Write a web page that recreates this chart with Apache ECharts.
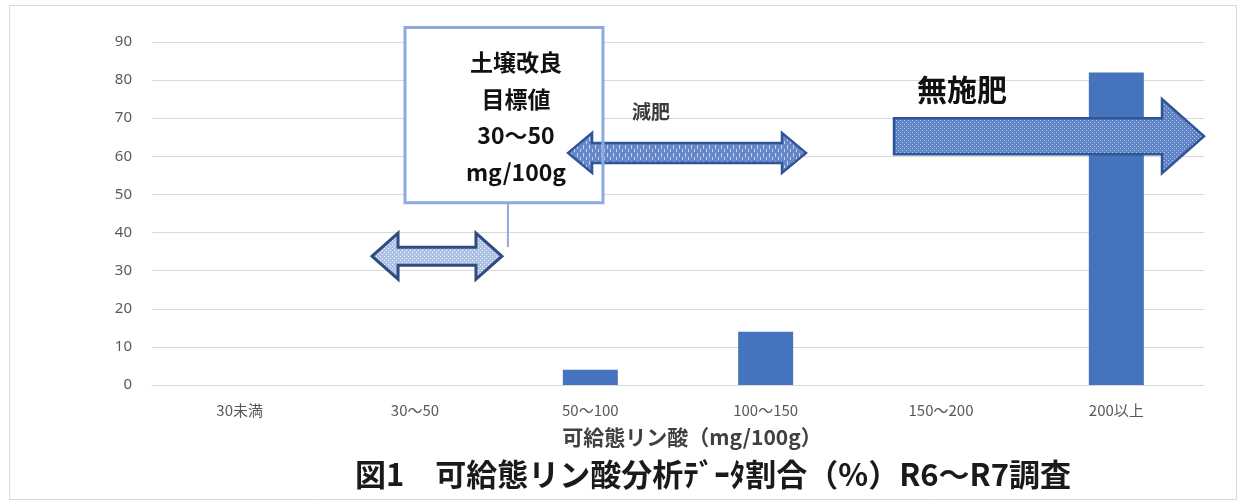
<!DOCTYPE html>
<html>
<head>
<meta charset="utf-8">
<script src="https://cdn.jsdelivr.net/npm/echarts@6/dist/echarts.min.js"></script>
<style>
  html, body { margin: 0; padding: 0; background: #ffffff; }
  #chart { width: 1246px; height: 504px; }
</style>
</head>
<body>
<div id="chart"></div>
<script>
// 可給態リン酸 class ranges (mg/100g) and share of samples (%)
const categories = ['30未満', '30～50', '50～100', '100～150', '150～200', '200以上'];
const shares = [0, 0, 4, 14, 0, 82];
const yTicks = { min: 0, max: 90, interval: 10 };

const chartTitle = '図1\u3000可給態リン酸分析ﾃﾞｰﾀ割合（%）R6～R7調査';
const axisTitle = '可給態リン酸（mg/100g）';
const targetLines = ['土壌改良', '目標値', '30～50', 'mg/100g'];
const reduceLabel = '減肥';
const noFertLabel = '無施肥';

const FONT_CJK = '"Noto Sans CJK JP", "Noto Sans", sans-serif';

const chart = echarts.init(document.getElementById('chart'), null, { renderer: 'canvas' });

chart.setOption({
  animation: false,
  backgroundColor: '#ffffff',
  title: {
    text: chartTitle,
    left: 355,
    top: 459,
    padding: 0,
    textStyle: { fontFamily: FONT_CJK, fontSize: 31, fontWeight: 'bold', color: '#1a1a1a' }
  },
  grid: { left: 152, right: 42, top: 42, bottom: 119, containLabel: false, outerBoundsMode: 'none' },
  xAxis: {
    type: 'category',
    data: categories,
    axisLine: { show: true, lineStyle: { color: '#D9D9D9', width: 1 } },
    axisTick: { show: false },
    axisLabel: { color: '#595959', fontSize: 15, fontFamily: FONT_CJK, margin: 18 },
    name: axisTitle,
    nameLocation: 'middle',
    nameGap: 42,
    nameTextStyle: { color: '#404040', fontSize: 21, fontWeight: 'bold', fontFamily: FONT_CJK, padding: [0, 0, 0, 28] }
  },
  yAxis: {
    type: 'value',
    min: yTicks.min,
    max: yTicks.max,
    interval: yTicks.interval,
    axisLine: { show: false },
    axisTick: { show: false },
    axisLabel: { color: '#595959', fontSize: 15, fontFamily: '"Noto Sans", sans-serif', margin: 20 },
    splitLine: { lineStyle: { color: '#D9D9D9', width: 1 } }
  },
  series: [{
    type: 'bar',
    data: shares,
    barWidth: 55,
    itemStyle: { color: '#4673BD' },
    z: 2
  }]
});

// ---- annotation layer (arrows, target box, labels) positioned on the axes ----
const x0 = chart.convertToPixel({ xAxisIndex: 0 }, 0);
const x1 = chart.convertToPixel({ xAxisIndex: 0 }, 1);
const band = x1 - x0;
const X = f => x0 + f * band;                                  // fractional category position
const Y = v => chart.convertToPixel({ yAxisIndex: 0 }, v);     // value position

function makePattern(base, ink, w, h, cells) {
  const c = document.createElement('canvas');
  c.width = w; c.height = h;
  const g = c.getContext('2d');
  g.fillStyle = base; g.fillRect(0, 0, w, h);
  g.fillStyle = ink;
  cells.forEach(([cx, cy, cw, ch]) => g.fillRect(cx, cy, cw, ch));
  return { image: c, repeat: 'repeat' };
}

const dotsDark = makePattern('#5F84C6', '#B9CBEA', 4, 4, [[0, 0, 1, 1], [2, 2, 1, 1]]);
const dotsLight = makePattern('#AEC1E5', '#EEF3FB', 4, 4, [[0, 0, 1, 1], [2, 2, 1, 1]]);
const dashes = makePattern('#6688C8', '#C3D2EE', 6, 8, [[1, 1, 1, 4], [4, 5, 1, 3]]);

function doubleArrow(xa, xb, y, shaftH, headH, headL) {
  return [
    [xa, y], [xa + headL, y - headH], [xa + headL, y - shaftH],
    [xb - headL, y - shaftH], [xb - headL, y - headH], [xb, y],
    [xb - headL, y + headH], [xb - headL, y + shaftH],
    [xa + headL, y + shaftH], [xa + headL, y + headH]
  ];
}
function rightArrow(xa, xb, y, shaftH, headH, headL) {
  return [
    [xa, y - shaftH], [xb - headL, y - shaftH], [xb - headL, y - headH], [xb, y],
    [xb - headL, y + headH], [xb - headL, y + shaftH], [xa, y + shaftH]
  ];
}

const boxL = X(0.943), boxR = X(2.072), boxT = Y(93.8), boxB = Y(47.8);
const boxCx = X(1.576);
const lineYs = [84.6, 75.0, 65.4, 55.8];

const graphics = [
  // chart-area frame
  { type: 'rect', silent: true, z: 0,
    shape: { x: 9.5, y: 5.5, width: 1227, height: 494 },
    style: { fill: null, stroke: '#D9D9D9', lineWidth: 1 } },
  // target box background (hides gridlines inside)
  { type: 'rect', silent: true, z: 10,
    shape: { x: boxL, y: boxT, width: boxR - boxL, height: boxB - boxT },
    style: { fill: '#ffffff' } },
  // connector from the box down to the 30～50 arrow
  { type: 'line', silent: true, z: 11,
    shape: { x1: X(1.53), y1: boxB, x2: X(1.53), y2: Y(36.2) },
    style: { stroke: '#8EA9DB', lineWidth: 2 } },
  // 30～50 target range arrow
  { type: 'polygon', silent: true, z: 12,
    shape: { points: doubleArrow(X(0.755), X(1.496), Y(33.8), 9, 23, 26) },
    style: { fill: dotsLight, stroke: '#2F4C7F', lineWidth: 3, lineJoin: 'miter' } },
  // 減肥 range arrow
  { type: 'polygon', silent: true, z: 12,
    shape: { points: doubleArrow(X(1.873), X(3.23), Y(60.9), 10, 20, 24) },
    style: { fill: dashes, stroke: '#2F5597', lineWidth: 2.5, lineJoin: 'miter' } },
  // 無施肥 arrow
  { type: 'polygon', silent: true, z: 12,
    shape: { points: rightArrow(X(3.732), X(5.5), Y(65.3), 18, 37, 42) },
    style: { fill: dotsDark, stroke: '#2F5597', lineWidth: 2.5, lineJoin: 'miter' } },
  // target box border
  { type: 'rect', silent: true, z: 13,
    shape: { x: boxL, y: boxT, width: boxR - boxL, height: boxB - boxT },
    style: { fill: null, stroke: '#8EA9DB', lineWidth: 3 } },
  // labels
  { type: 'text', silent: true, z: 14,
    x: X(2.346), y: Y(71.6),
    style: { text: reduceLabel, fontFamily: FONT_CJK, fontSize: 19, fontWeight: 'bold',
             fill: '#3a3a3a', align: 'center', verticalAlign: 'middle' } },
  { type: 'text', silent: true, z: 14,
    x: X(4.12), y: Y(77.4),
    style: { text: noFertLabel, fontFamily: FONT_CJK, fontSize: 30, fontWeight: 'bold',
             fill: '#111111', align: 'center', verticalAlign: 'middle' } }
];

targetLines.forEach((t, i) => {
  graphics.push({
    type: 'text', silent: true, z: 14,
    x: boxCx, y: Y(lineYs[i]),
    style: { text: t, fontFamily: FONT_CJK, fontSize: 23, fontWeight: 'bold',
             fill: '#111111', align: 'center', verticalAlign: 'middle' }
  });
});

chart.setOption({ graphic: graphics });
</script>
</body>
</html>
